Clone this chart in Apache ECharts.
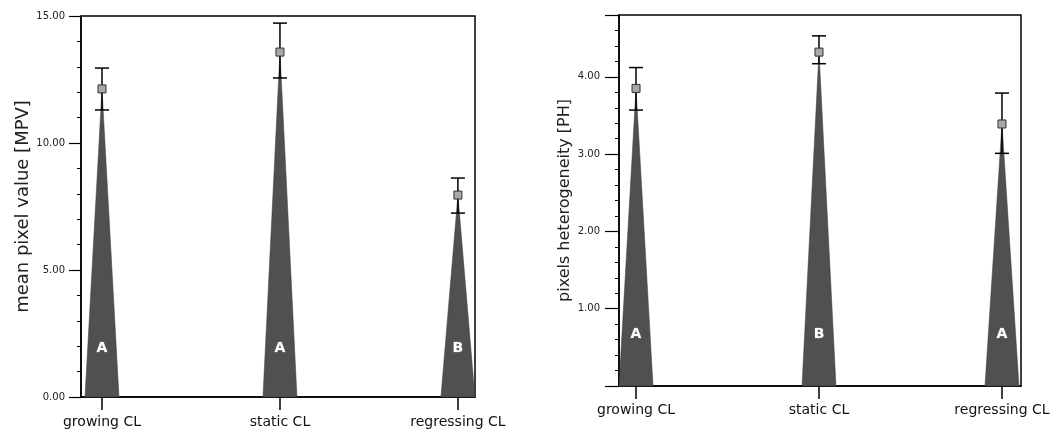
<!DOCTYPE html>
<html><head><meta charset="utf-8">
<script src="https://cdn.jsdelivr.net/npm/echarts@6/dist/echarts.min.js"></script>
<style>html,body{margin:0;padding:0;background:#fff}#c{width:1053px;height:433px}</style>
</head><body><div id="c"></div>
<script>
// ---- data ----
const categories = ['growing CL', 'static CL', 'regressing CL'];
const mpvMean = [12.13, 13.58, 7.95];
const mpvLow  = [11.30, 12.56, 7.24];
const mpvHigh = [12.95, 14.72, 8.62];
const mpvGroup = ['A', 'A', 'B'];
const phMean = [3.85, 4.32, 3.39];
const phLow  = [3.57, 4.17, 3.01];
const phHigh = [4.12, 4.53, 3.79];
const phGroup = ['A', 'B', 'A'];
const mpvAxis = [0, 15, 5];      // min, max, interval
const phAxis = [0, 4.8, 1];
const catPositions = [0, 1, 2];

const FONT = 'DejaVu Sans';
const chart = echarts.init(document.getElementById('c'), null, {renderer: 'canvas'});

function coneRenderer(groups, letterOffset) {
  return function (params, api) {
    const x = api.value(0), m = api.value(1);
    const top = api.coord([x, m]);
    const base = api.coord([x, 0]);
    const hw = 17;
    return {
      type: 'group',
      children: [
        {type: 'polygon', shape: {points: [[base[0] - hw, base[1]], [base[0] + hw, base[1]], [top[0], top[1]]]},
         style: {fill: '#505050', stroke: '#3a3a3a', lineWidth: 0.5}},
        {type: 'text', x: base[0], y: base[1] - letterOffset,
         style: {text: groups[params.dataIndex], fill: '#fff', font: 'bold 14px ' + FONT,
                 align: 'center', verticalAlign: 'middle', stroke: '#777', lineWidth: 0.8}}
      ]
    };
  };
}
function errRenderer(params, api) {
  const x = api.value(0);
  const lo = api.coord([x, api.value(1)]);
  const hi = api.coord([x, api.value(2)]);
  const mn = api.coord([x, api.value(3)]);
  const cw = 7;
  const st = {stroke: '#000', lineWidth: 1.5};
  return {
    type: 'group',
    children: [
      {type: 'line', shape: {x1: lo[0], y1: lo[1], x2: hi[0], y2: hi[1]}, style: st},
      {type: 'line', shape: {x1: hi[0] - cw, y1: hi[1], x2: hi[0] + cw, y2: hi[1]}, style: st},
      {type: 'line', shape: {x1: lo[0] - cw, y1: lo[1], x2: lo[0] + cw, y2: lo[1]}, style: st},
      {type: 'rect', shape: {x: mn[0] - 4, y: mn[1] - 4, width: 8, height: 8},
       style: {fill: '#a8a8a8', stroke: '#333', lineWidth: 1}}
    ]
  };
}

function xAxisDef(gridIndex, min, max, margin) {
  return {
    type: 'value', gridIndex: gridIndex, min: min, max: max,
    splitLine: {show: false},
    axisLine: {show: true, onZero: false, lineStyle: {color: '#000', width: 1.5}},
    axisTick: {show: true, customValues: catPositions, length: 13, lineStyle: {color: '#000', width: 1.5}},
    axisLabel: {show: true, customValues: catPositions, margin: margin, color: '#111',
                fontFamily: FONT, fontSize: 14,
                formatter: v => categories[Math.round(v)] || ''}
  };
}
function yAxisDef(gridIndex, ax, name, nameSize, nameGap, labelMargin, tickLen, showMin) {
  return {
    type: 'value', gridIndex: gridIndex, min: ax[0], max: ax[1], interval: ax[2],
    name: name, nameLocation: 'middle', nameGap: nameGap, nameRotate: 90,
    nameTextStyle: {fontFamily: FONT, fontSize: nameSize, color: '#222'},
    splitLine: {show: false},
    axisLine: {show: true, onZero: false, lineStyle: {color: '#000', width: 1.5}},
    axisTick: {show: true, length: tickLen, lineStyle: {color: '#000', width: 1.2}},
    minorTick: {show: true, splitNumber: 5, length: 4, lineStyle: {color: '#000', width: 1}},
    axisLabel: {margin: labelMargin, fontFamily: FONT, fontSize: 10, color: '#222',
                showMinLabel: showMin, showMaxLabel: showMin,
                formatter: v => v.toFixed(2)}
  };
}

const option = {
  backgroundColor: '#fff',
  animation: false,
  grid: [
    {left: 81, top: 16, width: 394, height: 381, show: true, borderColor: '#000', borderWidth: 1.5, containLabel: false},
    {left: 619, top: 15, width: 402, height: 371, show: true, borderColor: '#000', borderWidth: 1.5, containLabel: false}
  ],
  xAxis: [
    xAxisDef(0, -0.118, 2.096, 18),
    xAxisDef(1, -0.093, 2.104, 17)
  ],
  yAxis: [
    yAxisDef(0, mpvAxis, 'mean pixel value [MPV]', 18, 49, 16, 12, true),
    yAxisDef(1, phAxis, 'pixels heterogeneity [PH]', 16, 46, 19, 14, false)
  ],
  series: [
    {type: 'custom', xAxisIndex: 0, yAxisIndex: 0, renderItem: coneRenderer(mpvGroup, 49),
     data: catPositions.map((c, i) => [c, mpvMean[i]]), clip: false},
    {type: 'custom', xAxisIndex: 0, yAxisIndex: 0, renderItem: errRenderer,
     data: catPositions.map((c, i) => [c, mpvLow[i], mpvHigh[i], mpvMean[i]]), clip: false},
    {type: 'custom', xAxisIndex: 1, yAxisIndex: 1, renderItem: coneRenderer(phGroup, 52),
     data: catPositions.map((c, i) => [c, phMean[i]]), clip: false},
    {type: 'custom', xAxisIndex: 1, yAxisIndex: 1, renderItem: errRenderer,
     data: catPositions.map((c, i) => [c, phLow[i], phHigh[i], phMean[i]]), clip: false}
  ]
};
chart.setOption(option);
</script>
</body></html>
